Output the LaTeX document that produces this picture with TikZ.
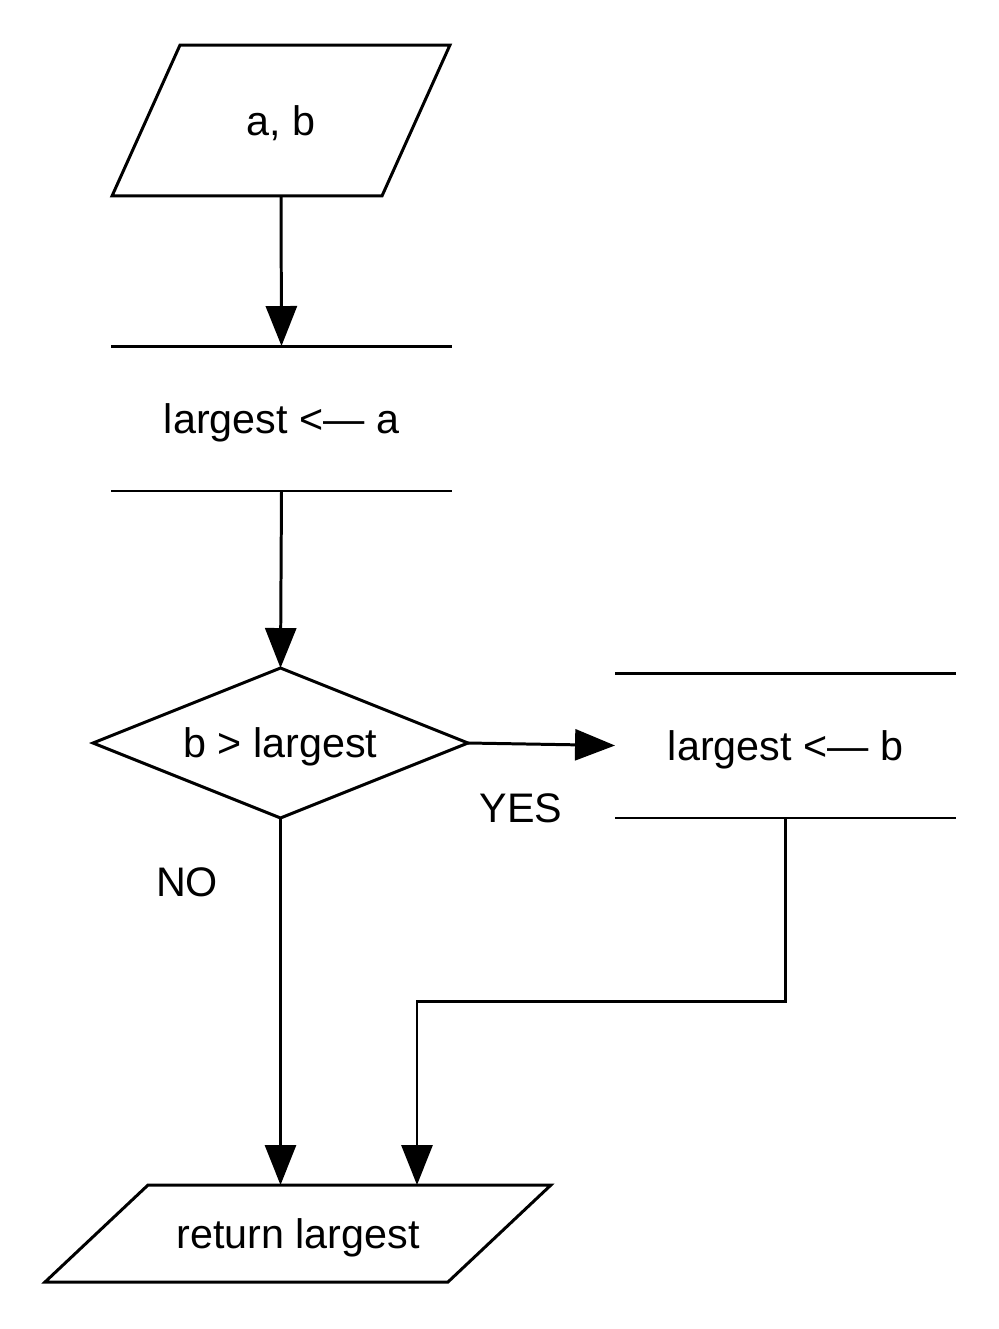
\documentclass[tikz,border=0pt]{standalone}
\usepackage{fontspec}
\setmainfont{Liberation Sans}
\usetikzlibrary{shapes.geometric,arrows.meta}
\begin{document}
\begin{tikzpicture}[x=0.02cm, y=-0.02cm, >={Triangle[width=0.62cm,length=0.8cm]}, line width=1.7pt, font=\fontsize{23.5}{28}\selectfont, text depth=0pt,
		io/.style={inner sep=0pt, outer sep=0pt},
		decision/.style={diamond, draw, shape aspect=2.5, inner sep=0pt, outer sep=0pt, minimum width=7.5cm, minimum height=3cm},
		assign/.style={inner sep=0pt, outer sep=0pt, minimum width=6.82cm, minimum height=2.9cm}]
			\useasboundingbox (0,0) rectangle (999,1329);
			\node[io, minimum width=5.4cm, minimum height=3.02cm] (in) at (281,120.5) {a, b};
			\node[assign] (init) at (281.5,418.5) {largest <— a};
			\node[decision] (test) at (280.5,743) {b > largest};
			\node[assign] (upd) at (785.5,745.5) {largest <— b};
			\node[io, minimum width=8.06cm, minimum height=1.94cm] (out) at (298,1233.5) {return largest};
			\node (yes) at (521,808) {YES};
			\node (no) at (187,882) {NO};
			\foreach \n in {init,upd} {
				\draw (\n.north west) -- (\n.north east) (\n.south west) -- (\n.south east);
			}
			\draw ([xshift=0.68cm]in.north west) -- ([xshift=0.68cm]in.north east) -- ([xshift=-0.68cm]in.south east) -- ([xshift=-0.68cm]in.south west) -- cycle;
			\draw ([xshift=1.03cm]out.north west) -- ([xshift=1.03cm]out.north east) -- ([xshift=-1.03cm]out.south east) -- ([xshift=-1.03cm]out.south west) -- cycle;
			\coordinate (join) at (417,1001);

			\draw[->] (in.south) -- (init.north);
			\draw[->] (init.south) -- (test.north);
			\draw[->] (test.east) -- (upd.west);
			\draw[->] (test.south) -- (test.south |- out.north);
			\draw[->] (upd.south) |- (join) -- (join |- out.north);
		\end{tikzpicture}
\end{document}
